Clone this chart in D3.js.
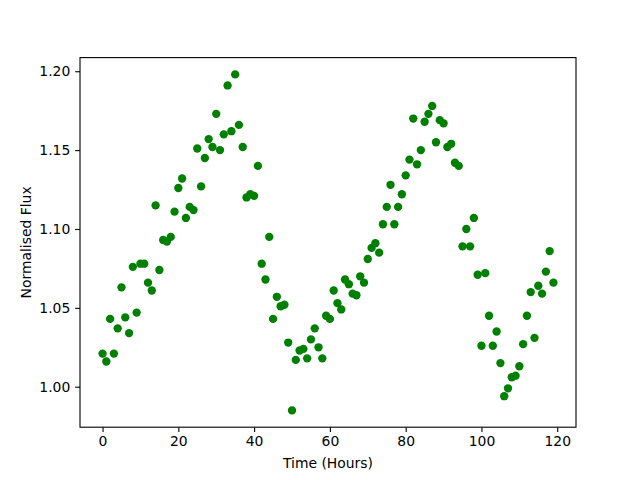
<!DOCTYPE html>
<html>
<head>
<meta charset="utf-8">
<script src="https://cdn.jsdelivr.net/npm/d3@7"></script>
<style>
  body { margin: 0; background: #fff; }
  text { font-family: "DejaVu Sans", sans-serif; }
</style>
</head>
<body>
<div id="chart"></div>
<script>
// time of each sample, hours
const hours = [
  0, 1, 2, 3, 4, 5, 6, 7, 8, 9, 10, 11, 12, 13, 14, 15, 16, 17, 18, 19,
  20, 21, 22, 23, 24, 25, 26, 27, 28, 29, 30, 31, 32, 33, 34, 35, 36, 37, 38, 39,
  40, 41, 42, 43, 44, 45, 46, 47, 48, 49, 50, 51, 52, 53, 54, 55, 56, 57, 58, 59,
  60, 61, 62, 63, 64, 65, 66, 67, 68, 69, 70, 71, 72, 73, 74, 75, 76, 77, 78, 79,
  80, 81, 82, 83, 84, 85, 86, 87, 88, 89, 90, 91, 92, 93, 94, 95, 96, 97, 98, 99,
  100, 101, 102, 103, 104, 105, 106, 107, 108, 109, 110, 111, 112, 113, 114, 115, 116, 117, 118, 119
];

// normalised flux
const flux = [
  1.021, 1.016, 1.043, 1.021, 1.037, 1.063, 1.044, 1.034, 1.076, 1.047,
  1.078, 1.078, 1.066, 1.061, 1.115, 1.074, 1.093, 1.092, 1.095, 1.111,
  1.126, 1.132, 1.107, 1.114, 1.112, 1.151, 1.127, 1.145, 1.157, 1.152,
  1.173, 1.150, 1.160, 1.191, 1.162, 1.198, 1.166, 1.152, 1.120, 1.122,
  1.121, 1.140, 1.078, 1.068, 1.095, 1.043, 1.057, 1.051, 1.052, 1.028,
  0.985, 1.017, 1.023, 1.024, 1.018, 1.030, 1.037, 1.025, 1.018, 1.045,
  1.043, 1.061, 1.053, 1.049, 1.068, 1.065, 1.059, 1.058, 1.070, 1.066,
  1.081, 1.088, 1.091, 1.085, 1.103, 1.114, 1.128, 1.103, 1.114, 1.122,
  1.134, 1.144, 1.170, 1.141, 1.150, 1.168, 1.173, 1.178, 1.155, 1.169,
  1.167, 1.152, 1.154, 1.142, 1.140, 1.089, 1.100, 1.089, 1.107, 1.071,
  1.026, 1.072, 1.045, 1.026, 1.035, 1.015, 0.994, 0.999, 1.006, 1.007,
  1.013, 1.027, 1.045, 1.060, 1.031, 1.064, 1.059, 1.073, 1.086, 1.066
];

const xTicks = [0, 20, 40, 60, 80, 100, 120];
const yTicks = [1.00, 1.05, 1.10, 1.15, 1.20];

const W = 640, H = 480;
const margin = {top: 57.6, right: 64, bottom: 52.8, left: 80};
const width = W - margin.left - margin.right;
const height = H - margin.top - margin.bottom;

const svg = d3.select("#chart")
  .append("svg")
    .attr("width", W)
    .attr("height", H);

const g = svg.append("g")
  .attr("transform", `translate(${margin.left}, ${margin.top})`);

// matplotlib style 5% autoscale margins
const xExt = d3.extent(hours), yExt = d3.extent(flux);
const xPad = (xExt[1] - xExt[0]) * 0.05, yPad = (yExt[1] - yExt[0]) * 0.05;

const x = d3.scaleLinear()
  .domain([xExt[0] - xPad, xExt[1] + xPad])
  .range([0, width]);

const y = d3.scaleLinear()
  .domain([yExt[0] - yPad, yExt[1] + yPad])
  .range([height, 0]);

const tick = 4.86;

// X axis
const xAxis = g.append("g")
  .attr("transform", `translate(0, ${height})`)
  .call(d3.axisBottom(x).tickValues(xTicks).tickSize(tick).tickPadding(4.5).tickSizeOuter(0));
xAxis.select(".domain").remove();

// Y axis
const yAxis = g.append("g")
  .call(d3.axisLeft(y).tickValues(yTicks).tickFormat(d3.format(".2f")).tickSize(tick).tickPadding(4.86).tickSizeOuter(0));
yAxis.select(".domain").remove();

g.selectAll(".tick line").attr("stroke", "#000").attr("stroke-width", 1.1);
g.selectAll(".tick text").attr("fill", "#000").style("font-size", "13.9px");

// points
g.selectAll("circle")
  .data(hours)
  .enter()
  .append("circle")
    .attr("cx", (d, i) => x(d))
    .attr("cy", (d, i) => y(flux[i]))
    .attr("r", 4.17)
    .attr("fill", "green");

// frame
g.append("rect")
  .attr("width", width)
  .attr("height", height)
  .attr("fill", "none")
  .attr("stroke", "#000")
  .attr("stroke-width", 1.1);

// labels
svg.append("text")
  .attr("x", margin.left + width / 2)
  .attr("y", 468)
  .attr("text-anchor", "middle")
  .style("font-size", "13.9px")
  .text("Time (Hours)");

svg.append("text")
  .attr("transform", `translate(31, ${margin.top + height / 2}) rotate(-90)`)
  .attr("text-anchor", "middle")
  .style("font-size", "13.9px")
  .text("Normalised Flux");
</script>
</body>
</html>
